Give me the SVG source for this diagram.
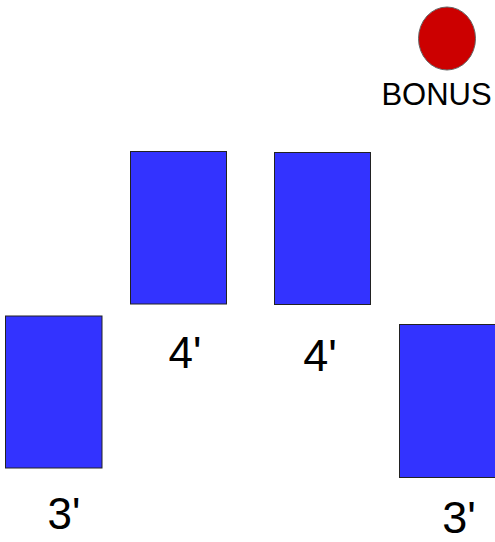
<svg xmlns="http://www.w3.org/2000/svg" width="495" height="542" viewBox="0 0 495 542">
<style>
.blk{fill:#3333ff;stroke:#222;stroke-width:1}
.lbl{font-family:"Liberation Sans",Arial,sans-serif;fill:#000}
</style>
<rect width="495" height="542" fill="#fff"/>
<g id="bonus">
<ellipse cx="447" cy="38.5" rx="28.5" ry="31.5" fill="#cc0000" stroke="#666" stroke-width="1"/>
<text class="lbl" x="436.5" y="105" font-size="31" text-anchor="middle">BONUS</text>
</g>
<g id="block-4a">
<rect class="blk" x="130.5" y="151.5" width="96" height="152.5"/>
<text class="lbl" x="185" y="368" font-size="44" text-anchor="middle">4'</text>
</g>
<g id="block-4b">
<rect class="blk" x="274.5" y="152.5" width="96" height="152"/>
<text class="lbl" x="320" y="371" font-size="45" text-anchor="middle">4'</text>
</g>
<g id="block-3a">
<rect class="blk" x="5.5" y="316" width="96.5" height="152"/>
<text class="lbl" x="64" y="529" font-size="44" text-anchor="middle">3'</text>
</g>
<g id="block-3b">
<rect class="blk" x="399.5" y="324.5" width="96" height="153"/>
<text class="lbl" x="459" y="533" font-size="45" text-anchor="middle">3'</text>
</g>
<g id="connectors"/>
</svg>
